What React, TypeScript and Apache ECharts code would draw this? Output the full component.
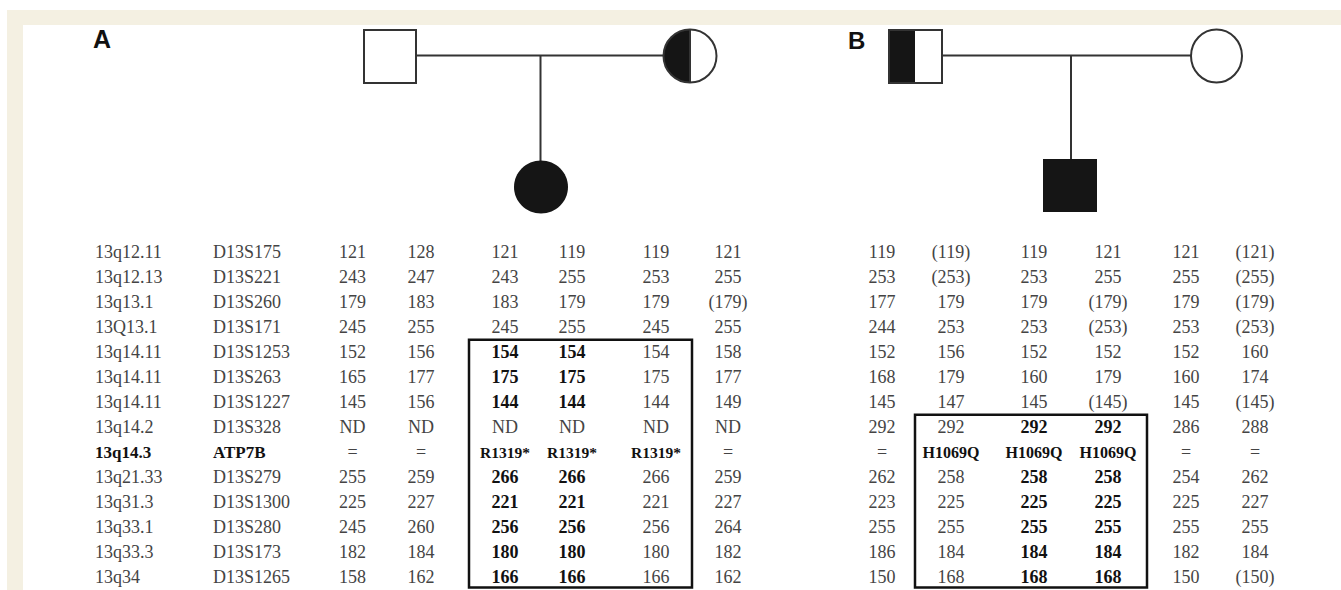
import React, { useEffect, useRef } from "react";
import * as echarts from "echarts";

// ---------- DATA ----------
const bands = ["13q12.11", "13q12.13", "13q13.1", "13Q13.1", "13q14.11", "13q14.11", "13q14.11", "13q14.2", "13q14.3", "13q21.33", "13q31.3", "13q33.1", "13q33.3", "13q34"];
const markers = ["D13S175", "D13S221", "D13S260", "D13S171", "D13S1253", "D13S263", "D13S1227", "D13S328", "ATP7B", "D13S279", "D13S1300", "D13S280", "D13S173", "D13S1265"];

// Family A
const fatherA1 = ["121", "243", "179", "245", "152", "165", "145", "ND", "=", "255", "225", "245", "182", "158"];
const fatherA2 = ["128", "247", "183", "255", "156", "177", "156", "ND", "=", "259", "227", "260", "184", "162"];
const childA1 = ["121", "243", "183", "245", "154", "175", "144", "ND", "R1319*", "266", "221", "256", "180", "166"];
const childA2 = ["119", "255", "179", "255", "154", "175", "144", "ND", "R1319*", "266", "221", "256", "180", "166"];
const motherA1 = ["119", "253", "179", "245", "154", "175", "144", "ND", "R1319*", "266", "221", "256", "180", "166"];
const motherA2 = ["121", "255", "(179)", "255", "158", "177", "149", "ND", "=", "259", "227", "264", "182", "162"];

// Family B
const fatherB1 = ["119", "253", "177", "244", "152", "168", "145", "292", "=", "262", "223", "255", "186", "150"];
const fatherB2 = ["(119)", "(253)", "179", "253", "156", "179", "147", "292", "H1069Q", "258", "225", "255", "184", "168"];
const childB1 = ["119", "253", "179", "253", "152", "160", "145", "292", "H1069Q", "258", "225", "255", "184", "168"];
const childB2 = ["121", "255", "(179)", "(253)", "152", "179", "(145)", "292", "H1069Q", "258", "225", "255", "184", "168"];
const motherB1 = ["121", "255", "179", "253", "152", "160", "145", "286", "=", "254", "225", "255", "182", "150"];
const motherB2 = ["(121)", "(255)", "(179)", "(253)", "160", "174", "(145)", "288", "=", "262", "227", "255", "184", "(150)"];

// rows shown in bold (shared haplotype / mutation)
const boldMarkerRows = [8];
const boldChildA = [4, 5, 6, 8, 9, 10, 11, 12, 13];
const boldMotherA1 = [8];
const boldChildB = [7, 8, 9, 10, 11, 12, 13];
const boldFatherB2 = [8];

// ---------- LAYOUT ----------
const W = 1341;
const H = 590;
const bandX = 95;
const markerX = 213;
const colXA = [352.5, 421, 505, 572, 656, 728];
const colXB = [882, 951, 1034, 1108, 1186, 1255];
const boxes = [
  { x0: 469, x1: 692, r0: 3.5, r1: 13.4 },
  { x0: 915, x1: 1147, r0: 6.5, r1: 13.4 },
];

const SERIF = '"Liberation Serif", "Times New Roman", serif';
const SANS = '"Liberation Sans", Arial, sans-serif';
const TXT = "#444";
const BOLD = "#111";
const LINE = "#333";

type Cell = { x: number; r: number; text: string; bold: boolean; align: "left" | "center"; size: number };

function sizeFor(text: string, bold: boolean, isLabelCol: boolean): number {
  if (text.startsWith("R1319")) return 15.5;
  if (text.startsWith("H1069")) return 16;
  if (bold && isLabelCol) return 17;
  return 18;
}

function buildCells(): Cell[] {
  const cells: Cell[] = [];
  bands.forEach((t, r) => {
    const b = boldMarkerRows.includes(r);
    cells.push({ x: bandX, r, text: t, bold: b, align: "left", size: sizeFor(t, b, true) });
  });
  markers.forEach((t, r) => {
    const b = boldMarkerRows.includes(r);
    cells.push({ x: markerX, r, text: t, bold: b, align: "left", size: sizeFor(t, b, true) });
  });
  const colsA = [fatherA1, fatherA2, childA1, childA2, motherA1, motherA2];
  const boldA = [[], [], boldChildA, boldChildA, boldMotherA1, []] as number[][];
  colsA.forEach((col, c) =>
    col.forEach((t, r) => {
      const b = boldA[c].includes(r);
      cells.push({ x: colXA[c], r, text: t, bold: b, align: "center", size: sizeFor(t, b, false) });
    })
  );
  const colsB = [fatherB1, fatherB2, childB1, childB2, motherB1, motherB2];
  const boldB = [[], boldFatherB2, boldChildB, boldChildB, [], []] as number[][];
  colsB.forEach((col, c) =>
    col.forEach((t, r) => {
      const b = boldB[c].includes(r);
      cells.push({ x: colXB[c], r, text: t, bold: b, align: "center", size: sizeFor(t, b, false) });
    })
  );
  return cells;
}

function pedigree(): any[] {
  const els: any[] = [];
  // frame
  els.push({ type: "rect", z: 0, shape: { x: 7, y: 10, width: W - 7, height: 15 }, style: { fill: "#f4f0e2" } });
  els.push({ type: "rect", z: 0, shape: { x: 7, y: 10, width: 16, height: H - 10 }, style: { fill: "#f4f0e2" } });
  // labels
  els.push({ type: "text", z: 5, x: 93, y: 39, style: { text: "A", font: `bold 25px ${SANS}`, fill: "#111", verticalAlign: "middle" } });
  els.push({ type: "text", z: 5, x: 848, y: 40, style: { text: "B", font: `bold 24px ${SANS}`, fill: "#111", verticalAlign: "middle" } });

  const ls = { stroke: LINE, lineWidth: 2 };
  // family A
  els.push({ type: "line", z: 1, shape: { x1: 416, y1: 55.5, x2: 663, y2: 55.5 }, style: ls });
  els.push({ type: "line", z: 1, shape: { x1: 540.5, y1: 55.5, x2: 540.5, y2: 162 }, style: ls });
  els.push({ type: "rect", z: 3, shape: { x: 364, y: 30, width: 52, height: 53 }, style: { fill: "#fff", stroke: LINE, lineWidth: 2 } });
  els.push({ type: "ellipse", z: 3, shape: { cx: 690, cy: 56, rx: 26.5, ry: 26.5 }, style: { fill: "#fff" } });
  els.push({ type: "sector", z: 4, shape: { cx: 690, cy: 56, r0: 0, r: 26.5, startAngle: Math.PI / 2, endAngle: (Math.PI * 3) / 2, clockwise: true }, style: { fill: "#151515" } });
  els.push({ type: "line", z: 5, shape: { x1: 690, y1: 29.5, x2: 690, y2: 82.5 }, style: ls });
  els.push({ type: "ellipse", z: 5, shape: { cx: 690, cy: 56, rx: 26.5, ry: 26.5 }, style: { fill: "none", stroke: LINE, lineWidth: 2 } });
  els.push({ type: "ellipse", z: 3, shape: { cx: 541, cy: 187, rx: 27, ry: 26.5 }, style: { fill: "#151515" } });

  // family B
  els.push({ type: "line", z: 1, shape: { x1: 942, y1: 55.5, x2: 1191, y2: 55.5 }, style: ls });
  els.push({ type: "line", z: 1, shape: { x1: 1071, y1: 55.5, x2: 1071, y2: 160 }, style: ls });
  els.push({ type: "rect", z: 3, shape: { x: 889, y: 30, width: 53, height: 53 }, style: { fill: "#fff" } });
  els.push({ type: "rect", z: 4, shape: { x: 889, y: 30, width: 26, height: 53 }, style: { fill: "#151515" } });
  els.push({ type: "rect", z: 5, shape: { x: 889, y: 30, width: 53, height: 53 }, style: { fill: "none", stroke: LINE, lineWidth: 2 } });
  els.push({ type: "ellipse", z: 3, shape: { cx: 1216.5, cy: 56, rx: 25.5, ry: 26.5 }, style: { fill: "#fff", stroke: LINE, lineWidth: 2 } });
  els.push({ type: "rect", z: 3, shape: { x: 1043, y: 159, width: 54, height: 53 }, style: { fill: "#151515" } });
  return els;
}

export default function App() {
  const ref = useRef<HTMLDivElement>(null);
  useEffect(() => {
    document.body.style.margin = "0";
    const chart = echarts.init(ref.current!, null, { renderer: "svg" });
    const cells = buildCells();
    chart.setOption({
      animation: false,
      backgroundColor: "#fff",
      grid: { left: 0, top: 239.5, width: W, height: 351.4 },
      xAxis: { type: "value", min: 0, max: W, show: false },
      yAxis: { type: "value", min: -0.5, max: 13.5, inverse: true, show: false },
      graphic: pedigree(),
      series: [
        {
          type: "custom",
          silent: true,
          data: cells.map((c) => [c.x, c.r]),
          renderItem: (params: any, api: any) => {
            const c = cells[params.dataIndex];
            const p = api.coord([api.value(0), api.value(1)]);
            return {
              type: "text",
              x: p[0],
              y: p[1],
              style: {
                text: c.text,
                font: `${c.bold ? "bold " : ""}${c.size}px ${SERIF}`,
                fill: c.bold ? BOLD : TXT,
                align: c.align,
                verticalAlign: "middle",
              },
            };
          },
        },
        {
          type: "custom",
          silent: true,
          data: boxes.map((b) => [b.x0, b.r0, b.x1, b.r1]),
          renderItem: (params: any, api: any) => {
            const a = api.coord([api.value(0), api.value(1)]);
            const b = api.coord([api.value(2), api.value(3)]);
            return {
              type: "rect",
              shape: { x: a[0], y: a[1], width: b[0] - a[0], height: b[1] - a[1] },
              style: { fill: "none", stroke: "#111", lineWidth: 2.5 },
            };
          },
        },
      ],
    });
    return () => chart.dispose();
  }, []);
  return <div ref={ref} style={{ position: "absolute", left: 0, top: 0, width: W, height: H }} />;
}
